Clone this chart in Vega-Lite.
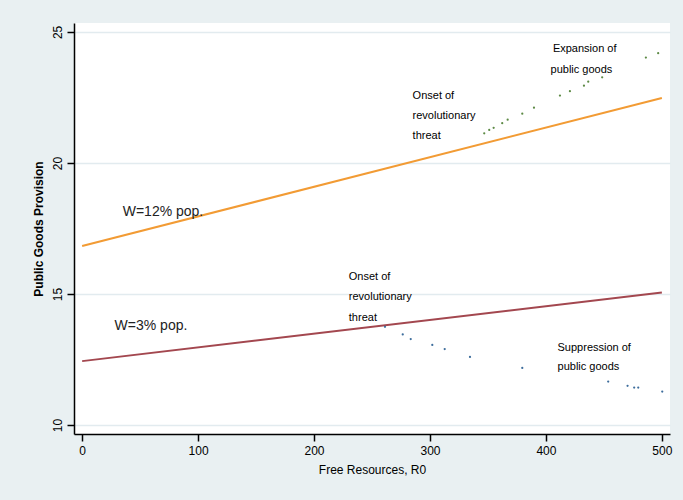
{
  "$schema": "https://vega.github.io/schema/vega-lite/v6.json",
  "autosize": {"type": "none"},
  "width": 596,
  "height": 411,
  "padding": {"left": 74, "top": 23, "right": 13, "bottom": 66},
  "background": "#e9f0f2",
  "view": {"fill": "white", "stroke": null},
  "config": {
    "font": "Liberation Sans",
    "axis": {
      "domainColor": "black", "domainWidth": 1.5, "tickColor": "black", "tickWidth": 1.5,
      "tickSize": 7, "labelFont": "Liberation Sans", "labelFontSize": 12, "labelColor": "black",
      "titleFont": "Liberation Sans", "titleFontSize": 12, "titleColor": "black"
    }
  },
  "resolve": {"scale": {"color": "independent"}},
  "datasets": {
    "lines": [
      {"R0": 0, "provision": 16.83, "series": "W=12% pop."},
      {"R0": 500, "provision": 22.48, "series": "W=12% pop."},
      {"R0": 0, "provision": 12.44, "series": "W=3% pop."},
      {"R0": 500, "provision": 15.06, "series": "W=3% pop."}
    ],
    "dots": [
      {"R0": 346.8, "provision": 21.13, "path": "Expansion"},
      {"R0": 351.1, "provision": 21.26, "path": "Expansion"},
      {"R0": 354.9, "provision": 21.34, "path": "Expansion"},
      {"R0": 362.3, "provision": 21.52, "path": "Expansion"},
      {"R0": 367.0, "provision": 21.65, "path": "Expansion"},
      {"R0": 379.6, "provision": 21.88, "path": "Expansion"},
      {"R0": 389.7, "provision": 22.11, "path": "Expansion"},
      {"R0": 412.1, "provision": 22.57, "path": "Expansion"},
      {"R0": 420.7, "provision": 22.74, "path": "Expansion"},
      {"R0": 432.8, "provision": 22.95, "path": "Expansion"},
      {"R0": 436.5, "provision": 23.10, "path": "Expansion"},
      {"R0": 448.5, "provision": 23.27, "path": "Expansion"},
      {"R0": 486.2, "provision": 24.02, "path": "Expansion"},
      {"R0": 496.8, "provision": 24.19, "path": "Expansion"},
      {"R0": 261.2, "provision": 13.75, "path": "Suppression"},
      {"R0": 276.5, "provision": 13.46, "path": "Suppression"},
      {"R0": 283.4, "provision": 13.28, "path": "Suppression"},
      {"R0": 302.0, "provision": 13.06, "path": "Suppression"},
      {"R0": 312.7, "provision": 12.90, "path": "Suppression"},
      {"R0": 334.5, "provision": 12.60, "path": "Suppression"},
      {"R0": 379.6, "provision": 12.18, "path": "Suppression"},
      {"R0": 453.7, "provision": 11.66, "path": "Suppression"},
      {"R0": 470.4, "provision": 11.50, "path": "Suppression"},
      {"R0": 476.1, "provision": 11.43, "path": "Suppression"},
      {"R0": 479.6, "provision": 11.43, "path": "Suppression"},
      {"R0": 500.3, "provision": 11.28, "path": "Suppression"}
    ],
    "notes": [
      {"R0": 406, "provision": 24.35, "text": "Expansion of"},
      {"R0": 404, "provision": 23.55, "text": "public goods"},
      {"R0": 285, "provision": 22.56, "text": "Onset of"},
      {"R0": 285, "provision": 21.79, "text": "revolutionary"},
      {"R0": 285, "provision": 21.03, "text": "threat"},
      {"R0": 230, "provision": 15.65, "text": "Onset of"},
      {"R0": 230, "provision": 14.87, "text": "revolutionary"},
      {"R0": 230, "provision": 14.09, "text": "threat"},
      {"R0": 410, "provision": 12.94, "text": "Suppression of"},
      {"R0": 410, "provision": 12.22, "text": "public goods"}
    ],
    "labels": [
      {"R0": 35, "provision": 18.13, "text": "W=12% pop."},
      {"R0": 28, "provision": 13.78, "text": "W=3% pop."}
    ]
  },
  "encoding": {
    "x": {
      "field": "R0", "type": "quantitative",
      "scale": {"domain": [-7, 507], "nice": false, "zero": false},
      "axis": {"values": [0, 100, 200, 300, 400, 500], "grid": false, "title": "Free Resources, R0", "titleFontWeight": "normal", "titlePadding": 8, "labelPadding": 4}
    },
    "y": {
      "field": "provision", "type": "quantitative",
      "scale": {"domain": [9.66, 25.34], "nice": false, "zero": false},
      "axis": {"values": [10, 15, 20, 25], "grid": true, "gridColor": "#e2ebef", "gridWidth": 1.5,
        "title": "Public Goods Provision", "titleFontWeight": "bold", "titlePadding": 6,
        "labelAngle": -90, "labelAlign": "center", "labelBaseline": "bottom", "labelPadding": 3}
    }
  },
  "layer": [
    {
      "data": {"name": "lines"},
      "mark": {"type": "line", "strokeWidth": 2},
      "encoding": {
        "color": {"field": "series", "type": "nominal", "scale": {"domain": ["W=12% pop.", "W=3% pop."], "range": ["#f29b34", "#a3474f"]}, "legend": null}
      }
    },
    {
      "data": {"name": "dots"},
      "mark": {"type": "circle", "size": 5, "opacity": 1},
      "encoding": {
        "color": {"field": "path", "type": "nominal", "scale": {"domain": ["Expansion", "Suppression"], "range": ["#5d8a45", "#3d6d9c"]}, "legend": null}
      }
    },
    {
      "data": {"name": "notes"},
      "mark": {"type": "text", "align": "left", "baseline": "middle", "fontSize": 11, "font": "Liberation Sans", "color": "black"},
      "encoding": {"text": {"field": "text"}}
    },
    {
      "data": {"name": "labels"},
      "mark": {"type": "text", "align": "left", "baseline": "middle", "fontSize": 14, "font": "Liberation Sans", "color": "#222222"},
      "encoding": {"text": {"field": "text"}}
    }
  ]
}
